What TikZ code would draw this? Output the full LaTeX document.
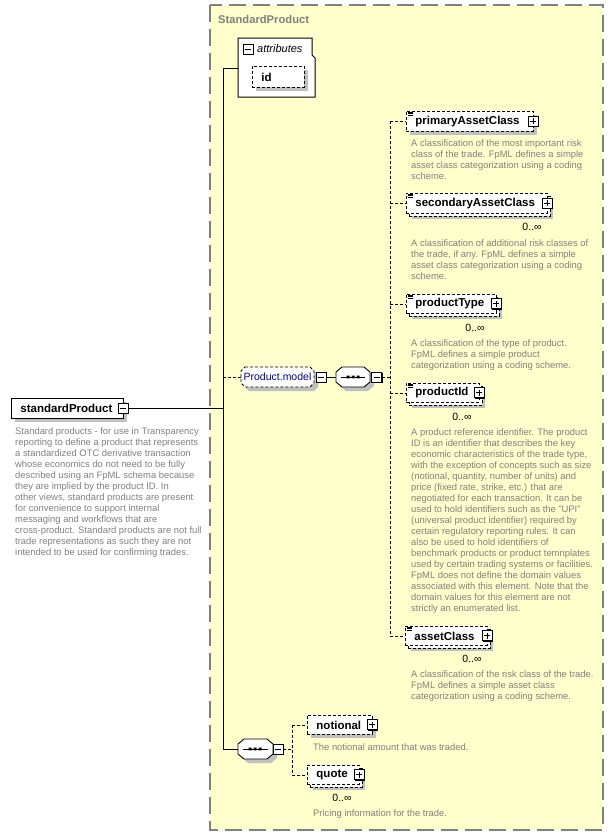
\documentclass[tikz,border=0pt]{standalone}
\usepackage{fontspec}
\setmainfont{Liberation Sans}
\usetikzlibrary{shadows}
\definecolor{yel}{RGB}{255,255,204}
\definecolor{bgray}{RGB}{128,128,128}
\definecolor{shad}{RGB}{192,192,192}
\definecolor{descc}{RGB}{128,128,128}
\definecolor{navyc}{RGB}{0,0,128}
\newcommand\elfont{\fontsize{11.5}{13}\selectfont\bfseries}
\newcommand\ttlfont{\fontsize{11.2}{13}\selectfont\bfseries}
\newcommand\dsfont{\fontsize{9.4}{11}\selectfont}
\newcommand\itfont{\fontsize{11}{13}\selectfont\itshape}
\newcommand\mlfont{\fontsize{10.5}{12}\selectfont}
\newcommand\pmfont{\fontsize{10.5}{12}\selectfont}
\newcommand\mkb[2]{\makebox[#1pt][l]{\hspace*{9pt}#2}}
\newcommand\octo[7]{\path[#1] (#2+#6,#3) -- (#4-#6,#3) -- (#4,#3+#7) -- (#4,#5-#7) -- (#4-#6,#5) -- (#2+#6,#5) -- (#2,#5-#7) -- (#2,#3+#7) -- cycle;}
\newcommand\eqicon[2]{\draw[icon] (#1+1.5,#2+1) -- +(5,0) (#1+1.5,#2+2.7) -- +(5,0) (#1+1.5,#2+4.4) -- +(5,0);}
\begin{document}
\begin{tikzpicture}[x=1pt,y=-1pt,
  conn/.style={line width=0.9pt},
  dconn/.style={line width=0.9pt, dash pattern=on 3pt off 2pt},
  elem/.style={draw=black, line width=0.9pt, dash pattern=on 3pt off 2pt, fill=white, inner sep=0pt, anchor=north west, font=\elfont},
  sgl/.style={drop shadow={shadow xshift=4pt, shadow yshift=-4pt, fill=shad, opacity=1}},
  multi/.style={drop shadow={shadow xshift=6pt, shadow yshift=-6pt, fill=shad, opacity=1},
    general shadow={shadow xshift=3pt, shadow yshift=-3pt, fill=white, draw=black, line width=0.9pt, dash pattern=on 3pt off 2pt}},
  pmb/.style={draw=black, fill=white, minimum size=10pt, inner sep=0pt, line width=0.8pt, drop shadow={shadow xshift=1pt, shadow yshift=-1pt, fill=black, opacity=1}},
  minus/.style={pmb, path picture={\draw[line width=0.9pt] ([xshift=2pt]path picture bounding box.west) -- ([xshift=-2pt]path picture bounding box.east);}},
  plus/.style={pmb, path picture={\draw[line width=0.9pt] ([xshift=2pt]path picture bounding box.west) -- ([xshift=-2pt]path picture bounding box.east) ([yshift=-2pt]path picture bounding box.north) -- ([yshift=2pt]path picture bounding box.south);}},
  dsc/.style={anchor=north west, inner sep=0pt, align=left, font=\dsfont, text=descc},
  mult/.style={font=\mlfont, inner sep=0pt},
  icon/.style={line width=0.6pt},
]
\useasboundingbox (0,0) rectangle (614,836);
% container
\draw[draw=bgray, fill=yel, line width=1.3pt, dash pattern=on 17pt off 7pt] (210,5) rectangle (603,830);
\node[anchor=west, text=bgray, font=\ttlfont, inner sep=0pt] (ttl) at (218,19) {StandardProduct};

% attributes
\path[fill=white, draw=black, line width=1pt] (238,38) -- (312,38) -- (312,55) -- (315,58) -- (315,97) -- (238,97) -- cycle;
\node[inner sep=0pt, minimum width=77pt, minimum height=59pt, anchor=north west] (attr) at (238,38) {};
\node[minus] (attrm) at (248,49) {};
\node[anchor=west, inner sep=0pt, font=\itfont] (attrt) at (257,49) {attributes};
\node[elem, sgl, minimum height=21pt] (idb) at (252,66) {\mkb{52}{id}};

% root element
\node[elem, solid, sgl, minimum height=20pt] (sp) at (11,398) {\mkb{112}{standardProduct}};
\node[minus] (spm) at (123,408) {};
\node[dsc] (spd) at (15,426.6) {\strut Standard products - for use in Transparency\\
reporting to define a product that represents\\
a standardized OTC derivative transaction\\
whose economics do not need to be fully\\
described using an FpML schema because\\
they are implied by the product ID. In\\
other views, standard products are present\\
for convenience to support internal\\
messaging and workflows that are\\
cross-product. Standard products are not full\\
trade representations as such they are not\\
intended to be used for confirming trades.};

% Product.model group
\octo{fill=shad}{245}{371}{318}{391}{4}{4}
\octo{draw=black, fill=white, line width=0.9pt, dash pattern=on 3pt off 2pt}{241}{367}{314}{387}{4}{4}
\node[inner sep=0pt, minimum width=73pt, minimum height=20pt, text=navyc, font=\pmfont] (pm) at (277.5,377) {Product.model};
\node[minus] (pmm) at (321,377) {};

% sequence 1
\octo{fill=shad}{340}{371}{374}{391}{6}{5}
\octo{draw=black, fill=white, line width=0.9pt}{336}{367}{370}{387}{6}{5}
\node[inner sep=0pt, minimum width=34pt, minimum height=20pt] (seq1) at (353,377) {};
\draw[line width=0.9pt] (341,377) -- (365,377);
\fill (346.5,375.7) rectangle +(3,2.6) (351.5,375.7) rectangle +(3,2.6) (356.5,375.7) rectangle +(3,2.6);
\node[minus] (seq1m) at (376.5,377) {};

% sequence 2
\octo{fill=shad}{242}{743}{277}{763}{6}{5}
\octo{draw=black, fill=white, line width=0.9pt}{238}{739}{273}{759}{6}{5}
\node[inner sep=0pt, minimum width=35pt, minimum height=20pt] (seq2) at (255.5,749) {};
\draw[line width=0.9pt] (243,749) -- (268,749);
\fill (248.5,747.7) rectangle +(3,2.6) (253.5,747.7) rectangle +(3,2.6) (258.5,747.7) rectangle +(3,2.6);
\node[minus] (seq2m) at (278,749) {};

% primaryAssetClass
\node[elem, sgl, minimum height=20pt] (pac) at (406,111) {\mkb{127}{primaryAssetClass}};
\eqicon{406}{111}
\node[plus] (pacp) at (533,121) {};
\node[dsc] (pacd) at (411,138.6) {\strut A classification of the most important risk\\
class of the trade. FpML defines a simple\\
asset class categorization using a coding\\
scheme.};

% secondaryAssetClass
\node[elem, multi, minimum height=20pt] (sac) at (406,193) {\mkb{141}{secondaryAssetClass}};
\eqicon{406}{193}
\node[plus] (sacp) at (547,203) {};
\node[mult] (sacm) at (532,227) {0..∞};
\node[dsc] (sacd) at (411,238.6) {\strut A classification of additional risk classes of\\
the trade, if any. FpML defines a simple\\
asset class categorization using a coding\\
scheme.};

% productType
\node[elem, multi, minimum height=19pt] (pt) at (406,294) {\mkb{90}{productType}};
\eqicon{406}{294}
\node[plus] (ptp) at (496,303.5) {};
\node[mult] (ptm) at (475,328) {0..∞};
\node[dsc] (ptd) at (411,338.6) {\strut A classification of the type of product.\\
FpML defines a simple product\\
categorization using a coding scheme.};

% productId
\node[elem, multi, minimum height=19pt] (pid) at (406,383) {\mkb{73}{productId}};
\eqicon{406}{383}
\node[plus] (pidp) at (479,392.5) {};
\node[mult] (pidm) at (462,417) {0..∞};
\node[dsc] (pidd) at (411,427.6) {\strut A product reference identifier. The product\\
ID is an identifier that describes the key\\
economic characteristics of the trade type,\\
with the exception of concepts such as size\\
(notional, quantity, number of units) and\\
price (fixed rate, strike, etc.) that are\\
negotiated for each transaction. It can be\\
used to hold identifiers such as the "UPI"\\
(universal product identifier) required by\\
certain regulatory reporting rules. It can\\
also be used to hold identifiers of\\
benchmark products or product temnplates\\
used by certain trading systems or facilities.\\
FpML does not define the domain values\\
associated with this element. Note that the\\
domain values for this element are not\\
strictly an enumerated list.};

% assetClass
\node[elem, multi, minimum height=19pt] (ac) at (405,626) {\mkb{82}{assetClass}};
\eqicon{405}{626}
\node[plus] (acp) at (487,635.5) {};
\node[mult] (acm) at (472,659) {0..∞};
\node[dsc] (acd) at (411,669.6) {\strut A classification of the risk class of the trade.\\
FpML defines a simple asset class\\
categorization using a coding scheme.};

% notional
\node[elem, sgl, minimum height=19pt] (nt) at (307,715) {\mkb{65}{notional}};
\node[plus] (ntp) at (372,724.5) {};
\node[dsc] (ntd) at (313,742.6) {\strut The notional amount that was traded.};

% quote
\node[elem, multi, minimum height=19pt] (qt) at (307,765) {\mkb{52}{quote}};
\node[plus] (qtp) at (359,774.5) {};
\node[mult] (qtm) at (342,798) {0..∞};
\node[dsc] (qtd) at (313,808.6) {\strut Pricing information for the trade.};

% connectors
\coordinate (tA) at (223,68);
\coordinate (aIn) at (238,68);
\coordinate (tM) at (223,377);
\coordinate (tS) at (223,408);
\coordinate (tB) at (223,749);
\coordinate (cJ) at (390,377);
\coordinate (bJ) at (292,749);
\draw[conn] (aIn) -- (tA) -- (tB) -- (seq2.west);
\draw[conn] (spm.east) -- (tS);
\draw[dconn] (tM) -- (pm.west);
\draw[conn] (pmm.east) -- (seq1.west);
\draw[dconn] (seq1m.east) -- (cJ);
\draw[dconn] (pac.west -| cJ) -- (ac.west -| cJ);
\foreach \n in {pac,sac,pt,pid,ac} {\draw[dconn] (\n.west -| cJ) -- (\n.west);}
\draw[dconn] (seq2m.east) -- (bJ);
\draw[dconn] (nt.west -| bJ) -- (qt.west -| bJ);
\draw[dconn] (nt.west -| bJ) -- (nt.west);
\draw[dconn] (qt.west -| bJ) -- (qt.west);
\end{tikzpicture}
\end{document}
